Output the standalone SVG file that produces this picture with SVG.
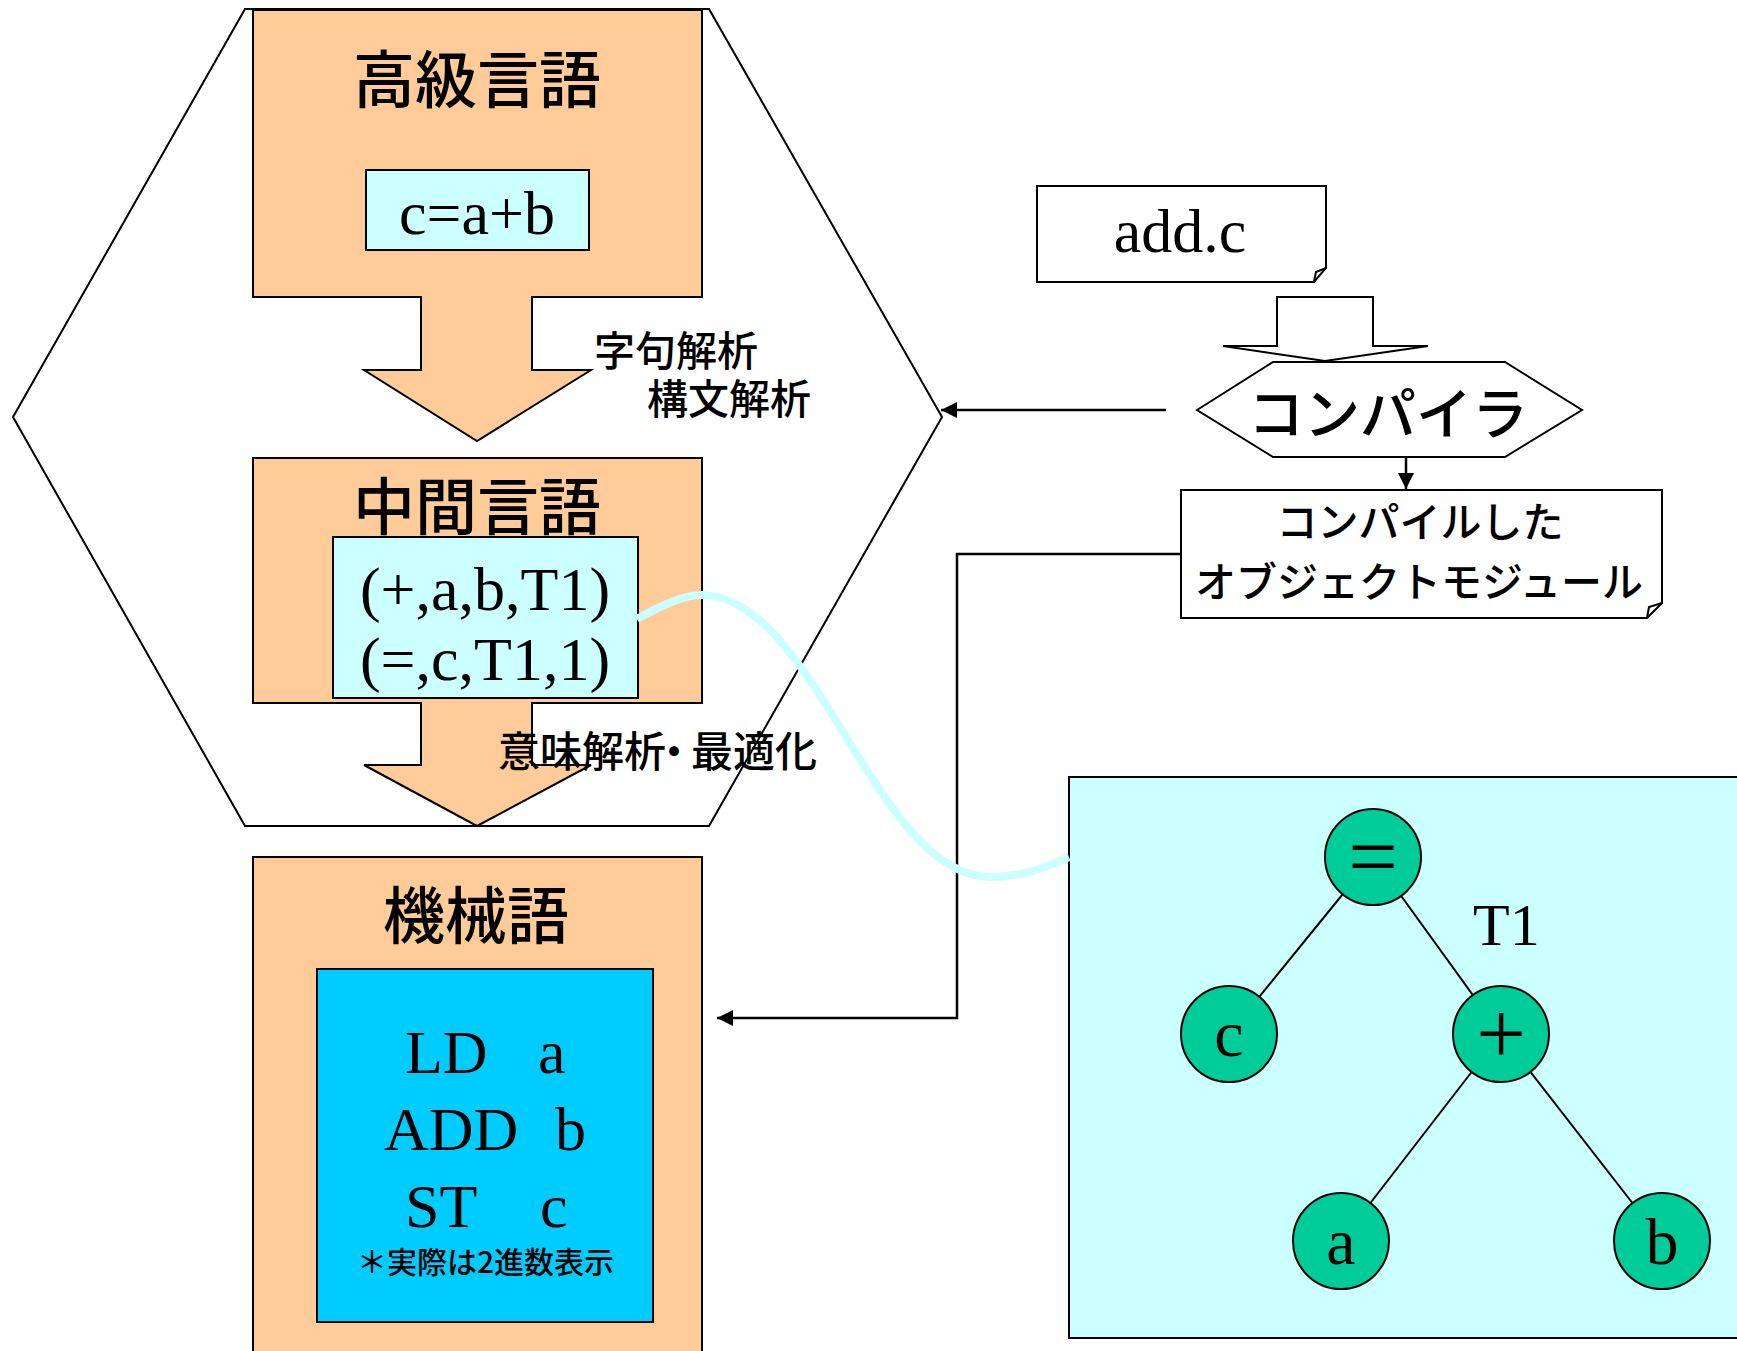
<svg xmlns="http://www.w3.org/2000/svg" width="1737" height="1351" viewBox="0 0 1737 1351">
  <defs>
    <style>
      .ln { fill: none; stroke: #000; stroke-width: 2; }
      .conn { fill: none; stroke: #000; stroke-width: 2.5; }
      .stage { fill: #FFCC99; stroke: #000; stroke-width: 2; }
      .pale { fill: #CCFFFF; stroke: #000; stroke-width: 2; }
      .code { fill: #00CCFF; stroke: #000; stroke-width: 2; }
      .doc { fill: #FFFFFF; stroke: #000; stroke-width: 2; }
      .node { fill: #00CC99; stroke: #000; stroke-width: 2; }
      .serif { font-family: "Liberation Serif", "Times New Roman", serif; fill: #000; }
      .jp { font-family: "Noto Sans CJK JP", "Noto Sans", sans-serif; fill: #000; font-weight: 500; }
      .mid { text-anchor: middle; }
    </style>
    <marker id="arrowhead" viewBox="0 0 16 16" refX="16" refY="8" markerWidth="16" markerHeight="16" markerUnits="userSpaceOnUse" orient="auto">
      <path d="M0,0 L16,8 L0,16 Z" fill="#000"/>
    </marker>
  </defs>

  <!-- compiler process boundary -->
  <g id="compiler-scope">
    <polygon class="ln" points="13,417 245,9 709,9 942,417 709,826 245,826"/>
  </g>

  <!-- high-level language stage with its downward arrow -->
  <g id="high-level">
    <polygon class="stage" points="253,10 702,10 702,297 532,297 532,370 591,370 477,441 364,370 421,370 421,297 253,297"/>
    <text class="jp mid" x="477" y="103" font-size="62">高級言語</text>
    <rect class="pale" x="366" y="170" width="223" height="80"/>
    <text class="serif mid" x="477" y="234" font-size="62">c=a+b</text>
  </g>

  <g id="label-parse">
    <text class="jp" x="594" y="366" font-size="41">字句解析</text>
    <text class="jp" x="647" y="414" font-size="41">構文解析</text>
  </g>

  <!-- intermediate language stage with its downward arrow -->
  <g id="intermediate">
    <polygon class="stage" points="253,458 702,458 702,703 532,703 532,765 591,765 477,826 364,765 421,765 421,703 253,703"/>
    <text class="jp mid" x="477" y="530" font-size="62">中間言語</text>
    <rect class="pale" x="333" y="537" width="305" height="161"/>
    <text class="serif mid" x="485" y="610" font-size="62">(+,a,b,T1)</text>
    <text class="serif mid" x="485" y="680" font-size="62">(=,c,T1,1)</text>
  </g>

  <g id="label-optimize">
    <text class="jp" x="498" y="767" font-size="42">意味解析<tspan dx="-13">・</tspan><tspan dx="-4">最適化</tspan></text>
  </g>

  <!-- machine language stage -->
  <g id="machine">
    <rect class="stage" x="253" y="857" width="449" height="520"/>
    <text class="jp mid" x="476" y="939" font-size="62">機械語</text>
    <rect class="code" x="317" y="969" width="336" height="353"/>
    <text class="serif" font-size="62"><tspan x="405" y="1073">LD</tspan><tspan x="538" y="1073">a</tspan></text>
    <text class="serif" font-size="62"><tspan x="384" y="1150">ADD</tspan><tspan x="555" y="1150">b</tspan></text>
    <text class="serif" font-size="62"><tspan x="405" y="1227">ST</tspan><tspan x="540" y="1227">c</tspan></text>
    <text class="jp" x="357" y="1273" font-size="30">＊実際は2進数表示</text>
  </g>

  <!-- source file -->
  <g id="source-file">
    <path class="doc" d="M1037,186 H1326 V268 L1314,282 H1037 Z"/>
    <path class="ln" d="M1326,268 L1316,272 L1314,282" stroke-width="1.5"/>
    <text class="serif mid" x="1180" y="252" font-size="62">add.c</text>
  </g>

  <!-- input block arrow -->
  <g id="input-arrow">
    <polygon class="doc" points="1277,297 1373,297 1373,346 1428,346 1325,361 1223,346 1277,346"/>
  </g>

  <!-- compiler -->
  <g id="compiler">
    <polygon class="doc" points="1197,410 1273,362 1505,362 1582,410 1505,457 1273,457"/>
    <text class="jp mid" x="1388" y="434" font-size="56">コンパイラ</text>
  </g>

  <!-- compiled object module -->
  <g id="object-module">
    <path class="doc" d="M1181,490 H1662 V603 L1647,618 H1181 Z"/>
    <path class="ln" d="M1662,603 L1649,607 L1647,618" stroke-width="1.5"/>
    <text class="jp mid" x="1420" y="537" font-size="41">コンパイルした</text>
    <text class="jp mid" x="1419" y="597" font-size="41">オブジェクトモジュール</text>
  </g>

  <!-- syntax tree panel -->
  <g id="syntax-tree">
    <rect class="pale" x="1069" y="777" width="700" height="561"/>
    <g class="tree-edges">
      <line class="ln" x1="1373" y1="857" x2="1229" y2="1034"/>
      <line class="ln" x1="1373" y1="857" x2="1501" y2="1034"/>
      <line class="ln" x1="1501" y1="1034" x2="1341" y2="1241"/>
      <line class="ln" x1="1501" y1="1034" x2="1662" y2="1241"/>
    </g>
    <g id="node-assign">
      <ellipse class="node" cx="1373" cy="857" rx="48" ry="48"/>
      <text class="serif mid" x="1373" y="886" font-size="88">=</text>
    </g>
    <g id="node-c">
      <ellipse class="node" cx="1229" cy="1034" rx="48" ry="48"/>
      <text class="serif mid" x="1229" y="1056" font-size="66">c</text>
    </g>
    <g id="node-plus">
      <ellipse class="node" cx="1501" cy="1034" rx="48" ry="48"/>
      <text class="serif mid" x="1501" y="1063" font-size="88">+</text>
    </g>
    <g id="node-a">
      <ellipse class="node" cx="1341" cy="1241" rx="48" ry="48"/>
      <text class="serif mid" x="1341" y="1264" font-size="66">a</text>
    </g>
    <g id="node-b">
      <ellipse class="node" cx="1662" cy="1241" rx="48" ry="48"/>
      <text class="serif mid" x="1662" y="1264" font-size="66">b</text>
    </g>
    <text class="serif" x="1473" y="945" font-size="60">T1</text>
  </g>

  <!-- connectors -->
  <g id="connectors">
    <line class="conn" x1="1166" y1="410" x2="941" y2="410" marker-end="url(#arrowhead)"/>
    <line class="conn" x1="1406" y1="457" x2="1406" y2="489" marker-end="url(#arrowhead)"/>
    <polyline class="conn" points="1181,554 957,554 957,1018 717,1018" marker-end="url(#arrowhead)"/>
    <path d="M637,619 C660,606 685,595 701,595 C816,595 875,877 990,877 C1020,877 1045,868 1069,857" fill="none" stroke="#CCFFFF" stroke-width="8"/>
  </g>
</svg>
